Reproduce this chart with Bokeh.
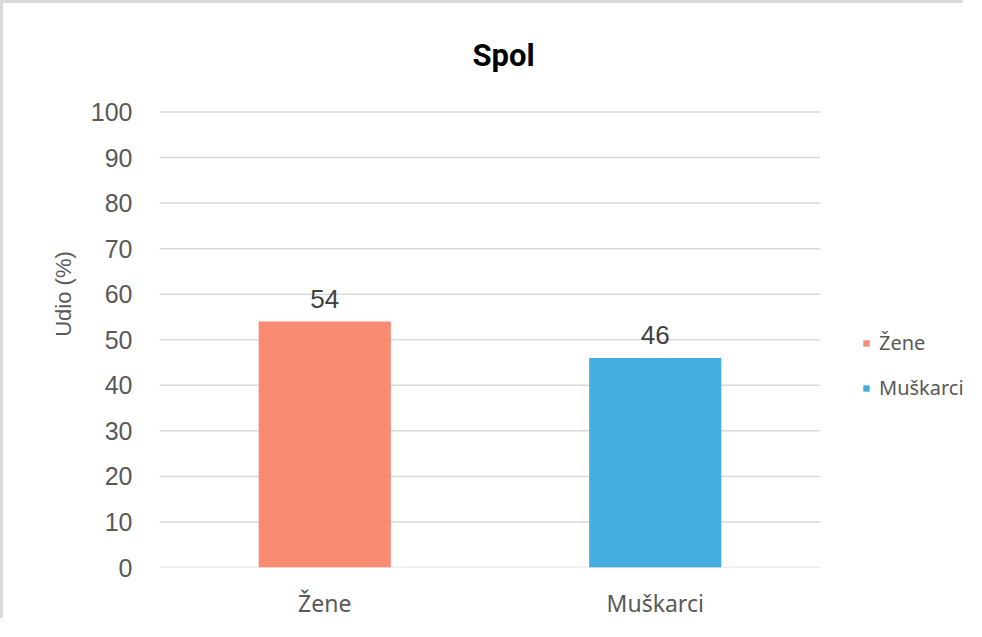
from bokeh.plotting import figure
from bokeh.models import (ColumnDataSource, Legend, LegendItem, Range1d, FixedTicker, Label)
from bokeh.core.properties import value
from bokeh.embed import file_html
from bokeh.resources import INLINE

# ---- data ----
categories = ["Žene", "Muškarci"]
values = [54, 46]
colors = ["#F98B73", "#45AEE0"]
y_ticks = [0, 10, 20, 30, 40, 50, 60, 70, 80, 90, 100]
title_text = "Spol"
y_label = "Udio (%)"

# ---- layout constants (pixels) ----
BORDER = 3
W, H = 963, 618
LEFT, TOP, BOTTOM = 156, 17, 51
frame_w = W - LEFT
frame_h = H - TOP - BOTTOM
px_per_cat = 330.5
px_per_unit = 4.58

xpos = [i + 0.5 for i in range(len(categories))]
source = ColumnDataSource(dict(x=xpos, val=values, color=colors,
                               lbl=[str(v) for v in values], cat=categories))

p = figure(width=W, height=H, output_backend="svg", toolbar_location=None, tools="",
           x_range=Range1d(0, frame_w / px_per_cat),
           y_range=Range1d(0, frame_h / px_per_unit))
p.min_border_left = LEFT
p.min_border_top = TOP
p.min_border_bottom = BOTTOM
p.min_border_right = 0
p.outline_line_color = None
p.background_fill_color = "white"
p.border_fill_color = "white"
p.styles = {"border-top": f"{BORDER}px solid #d9d9d9", "border-left": f"{BORDER}px solid #d9d9d9"}

# gridlines limited to the category area
n = len(categories)
p.segment(x0=[0] * len(y_ticks), x1=[n] * len(y_ticks), y0=y_ticks, y1=y_ticks,
          line_color="#d9d9d9", line_width=1.5, level="underlay")

bars = p.vbar(x="x", top="val", width=0.4, color="color", source=source, line_color=None)

p.text(x="x", y="val", text="lbl", source=source, text_align="center",
       text_baseline="bottom", y_offset=-14, text_font=value("Liberation Sans"),
       text_font_size="26px", text_color="#404040")

p.xgrid.grid_line_color = None
p.ygrid.grid_line_color = None

p.yaxis.ticker = FixedTicker(ticks=y_ticks)
p.yaxis.major_label_text_font = "Liberation Sans"
p.yaxis.major_label_text_font_size = "25px"
p.yaxis.major_label_text_color = "#595959"
p.yaxis.major_label_standoff = 27
p.yaxis.axis_line_color = None
p.yaxis.major_tick_line_color = None
p.yaxis.minor_tick_line_color = None
p.yaxis.major_tick_out = 0
p.yaxis.major_tick_in = 0
p.yaxis.minor_tick_out = 0
p.yaxis.axis_label = y_label
p.yaxis.axis_label_text_font = "Liberation Sans"
p.yaxis.axis_label_text_font_size = "22px"
p.yaxis.axis_label_text_font_style = "normal"
p.yaxis.axis_label_text_color = "#595959"
p.yaxis.axis_label_standoff = 12

p.xaxis.ticker = FixedTicker(ticks=xpos)
p.xaxis.major_label_overrides = {x: c for x, c in zip(xpos, categories)}
p.xaxis.major_label_text_font = "Noto Sans"
p.xaxis.major_label_text_font_size = "23px"
p.xaxis.major_label_text_color = "#595959"
p.xaxis.major_label_standoff = 19
p.xaxis.axis_line_color = None
p.xaxis.major_tick_line_color = None
p.xaxis.minor_tick_line_color = None
p.xaxis.major_tick_out = 0
p.xaxis.major_tick_in = 0
p.xaxis.minor_tick_out = 0

# title centred over the whole chart box (picture position x=503, y=55)
title = Label(x=(503 - 159) / px_per_cat, y=(frame_h - (55 - (TOP + BORDER))) / px_per_unit,
              text=title_text, text_align="center", text_baseline="middle",
              text_font="Roboto", text_font_size="31px", text_font_style="bold",
              text_color="#000000")
p.add_layout(title)

items = [LegendItem(label=categories[i], renderers=[bars], index=i) for i in range(n)]
legend = Legend(items=items, location=(862 - 159, (TOP + BORDER + frame_h) - 404),
                orientation="vertical", glyph_width=8, glyph_height=8, label_height=20,
                spacing=18, label_standoff=9, padding=0, margin=0,
                label_text_font="Noto Sans", label_text_font_size="20px",
                label_text_color="#595959", border_line_color=None,
                background_fill_alpha=0)
p.add_layout(legend, "center")

open("out.html", "w").write(file_html(p, INLINE))
